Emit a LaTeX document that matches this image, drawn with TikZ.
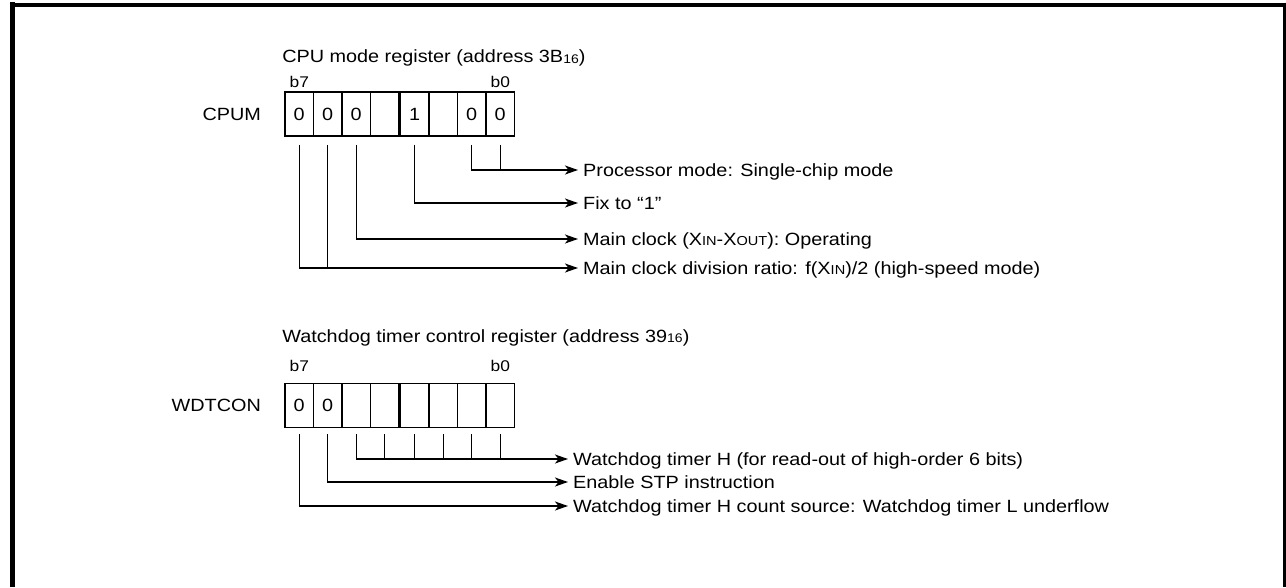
\documentclass[tikz,border=0pt]{standalone}
\usepackage{fontspec}
\setmainfont{Liberation Sans}[FakeStretch=1.12]
\usetikzlibrary{arrows.meta, positioning, calc}

\newcommand{\hexsub}[1]{\raisebox{-0.5pt}{\fontsize{12.5}{13}\selectfont #1}}
\newcommand{\scap}[1]{{\fontsize{13}{14}\selectfont #1}}
\newcommand{\cellval}[1]{\raisebox{-3pt}{#1}\hspace{6pt}}

\begin{document}
\begin{tikzpicture}[
    x=1pt, y=-1pt,
    cell/.style={
        draw,
        line width=1.8pt,
        minimum width=28.5pt,
        minimum height=44pt,
        inner sep=0pt,
        font=\fontsize{17.7}{20}\selectfont
    },
    reglabel/.style={
        inner sep=0pt,
        font=\fontsize{17.7}{20}\selectfont
    },
    bitlabel/.style={
        inner sep=0pt,
        font=\fontsize{15.5}{17}\selectfont
    },
    title/.style={
        inner sep=0pt,
        anchor=west,
        font=\fontsize{17.7}{20}\selectfont
    },
    desc/.style={
        inner sep=0pt,
        anchor=west,
        text height=12.7pt,
        text depth=0pt,
        font=\fontsize{17.7}{20}\selectfont
    },
    conn/.style={
        line width=1.2pt,
        shorten >=5pt,
        -{Stealth[length=13pt, width=9pt, inset=3.5pt]}
    },
    tie/.style={
        line width=1.2pt
    }
]
\useasboundingbox (0,0) rectangle (1286,587);

% Frame
\draw[line width=5pt] (12,587) -- (12,2);
\draw[line width=4pt] (9.5,4.5) -- (1286,4.5);
\draw[line width=3pt] (1284.5,2.5) -- (1284.5,587);

% CPU mode register
\foreach \v [count=\i from 0] in {0,0,0,{},1,{},0,0} {
    \pgfmathtruncatemacro{\b}{7-\i}
    \pgfmathsetmacro{\cx}{299.25+28.5*\i+(\i>3)*1.5}
    \node[cell] (cpu\b) at (\cx,114) {\cellval{\v}};
}
\node[reglabel, left=23pt of cpu7] (cpum) {CPUM};
\node[bitlabel, above=3pt of cpu7] (cpub7) {b7};
\node[bitlabel, above=3pt of cpu0] (cpub0) {b0};
\node[title] (cputitle) at ($(cpu7.north west)+(-2,-33)$) {CPU mode register (address 3B\hexsub{16})};

\node[desc] (pm) at (583,170) {Processor mode: Single-chip mode};
\node[desc] (fix) at (583,203) {Fix to “1”};
\node[desc] (mclk) at (583,239) {Main clock (X\scap{IN}-X\scap{OUT}): Operating};
\node[desc] (ratio) at (583,268) {Main clock division ratio: f(X\scap{IN})/2 (high-speed mode)};

\draw[tie] ([yshift=-8pt]cpu0.south) -- (cpu0.south |- pm.west);
\draw[conn] ([yshift=-8pt]cpu1.south) |- (pm.west);
\draw[conn] ([yshift=-8pt]cpu3.south) |- (fix.west);
\draw[conn] ([yshift=-8pt]cpu5.south) |- (mclk.west);
\draw[tie] ([yshift=-8pt]cpu6.south) -- (cpu6.south |- ratio.west);
\draw[conn] ([yshift=-8pt]cpu7.south) |- (ratio.west);

% Watchdog timer control register
\foreach \v [count=\i from 0] in {0,0,{},{},{},{},{},{}} {
    \pgfmathtruncatemacro{\b}{7-\i}
    \pgfmathsetmacro{\cx}{299.25+28.5*\i+(\i>3)*1.5}
    \node[cell] (wdt\b) at (\cx,405.5) {\cellval{\v}};
}
\node[reglabel, left=23pt of wdt7] (wdtcon) {WDTCON};
\node[bitlabel, above=11pt of wdt7] (wdtb7) {b7};
\node[bitlabel, above=11pt of wdt0] (wdtb0) {b0};
\node[title] (wdttitle) at ($(wdt7.north west)+(-2,-45)$) {Watchdog timer control register (address 39\hexsub{16})};

\node[desc] (wdh) at (573,459) {Watchdog timer H (for read-out of high-order 6 bits)};
\node[desc] (stp) at (573,482) {Enable STP instruction};
\node[desc] (src) at (573,506) {Watchdog timer H count source: Watchdog timer L underflow};

\foreach \b in {0,...,4}
    \draw[tie] ([yshift=-6pt]wdt\b.south) -- (wdt\b.south |- wdh.west);
\draw[conn] ([yshift=-6pt]wdt5.south) |- (wdh.west);
\draw[conn] ([yshift=-6pt]wdt6.south) |- (stp.west);
\draw[conn] ([yshift=-6pt]wdt7.south) |- (src.west);

\end{tikzpicture}
\end{document}
